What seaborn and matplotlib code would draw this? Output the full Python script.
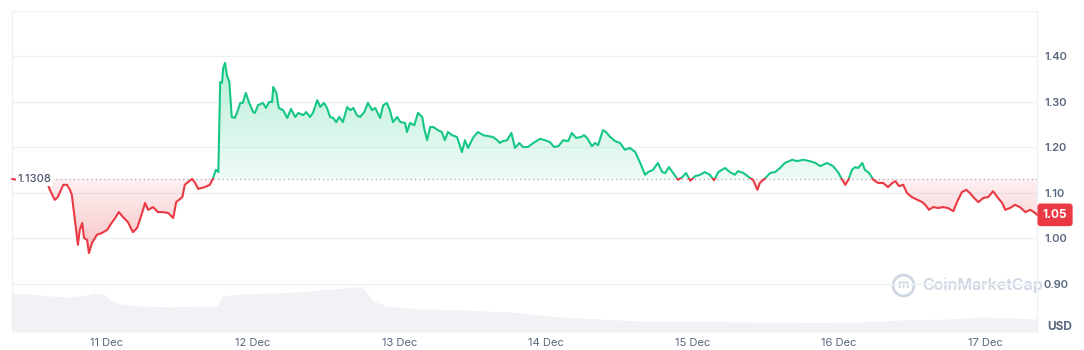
import numpy as np
import pandas as pd
import matplotlib
matplotlib.use("Agg")
import matplotlib.pyplot as plt
import matplotlib.dates as mdates
import seaborn as sns
from matplotlib.path import Path
from matplotlib.patches import Rectangle
from matplotlib.colors import to_rgb

# ---------------- data ----------------
start_time = "2023-12-10 08:35"
price_hours = [
    0.0, 1.3, 3.0, 4.6, 5.9, 6.2, 7.0, 7.5, 8.4, 9.0, 9.5, 9.8, 10.3, 10.8, 11.1, 11.5, 11.8,
    12.3, 12.6, 13.1, 13.9, 14.7, 15.6, 16.1, 16.9, 17.5, 18.2, 19.0, 19.8, 20.5, 21.3, 21.8,
    22.3, 23.1, 23.9, 24.7, 25.6, 26.4, 26.9, 27.9, 28.3, 29.5, 30.0, 30.5, 31.6, 32.4, 32.9,
    33.4, 33.8, 34.1, 34.4, 34.6, 34.9, 35.2, 35.6, 36.0, 36.5, 36.9, 37.4, 37.8, 38.3, 38.8,
    39.5, 39.8, 40.3, 41.1, 41.6, 42.1, 42.6, 42.8, 43.3, 43.7, 44.4, 45.1, 45.7, 46.4, 46.9,
    47.7, 48.2, 48.8, 49.3, 50.0, 50.5, 51.1, 51.6, 52.1, 52.6, 53.1, 53.6, 54.2, 54.9, 55.4,
    55.9, 56.5, 57.0, 57.7, 58.3, 59.0, 59.5, 60.3, 60.8, 61.4, 61.9, 62.4, 63.1, 63.6, 64.4,
    64.7, 65.2, 65.9, 66.5, 67.2, 67.5, 68.0, 68.5, 69.0, 69.8, 70.4, 70.9, 71.4, 72.1, 72.9,
    73.7, 74.2, 74.7, 75.5, 76.3, 77.2, 78.0, 78.8, 79.5, 79.9, 80.4, 81.1, 81.8, 82.4, 83.1,
    83.7, 84.5, 85.4, 86.5, 87.3, 88.1, 88.8, 89.5, 90.3, 91.1, 91.7, 92.4, 93.2, 93.7, 94.2,
    95.0, 95.5, 96.0, 96.8, 97.3, 98.0, 98.8, 99.6, 100.4, 101.2, 102.1, 102.9, 103.7, 104.2,
    105.0, 105.8, 106.5, 107.0, 107.6, 108.3, 109.1, 109.8, 110.4, 111.1, 111.9, 112.7, 113.5,
    114.3, 115.0, 115.7, 116.8, 117.6, 118.4, 118.9, 119.8, 120.9, 121.4, 122.1, 122.5, 123.4,
    124.2, 125.0, 125.8, 126.6, 127.8, 128.6, 129.6, 130.7, 131.6, 132.4, 133.5, 134.5, 135.3,
    136.0, 136.5, 137.0, 137.6, 138.1, 138.6, 139.3, 139.7, 140.4, 141.1, 141.9, 142.7, 143.5,
    144.2, 144.7, 145.3, 146.0, 146.6, 147.4, 148.3, 149.1, 149.6, 150.2, 150.9, 151.7, 152.5,
    153.3, 154.2, 154.8, 155.6, 156.3, 156.9, 157.6, 158.3, 159.1, 159.9, 160.7, 161.4, 162.2,
    162.7, 163.5, 164.3, 165.1, 166.0, 166.8, 167.6, 167.9,
]
price_values = [
    1.1308, 1.128, 1.125, 1.122, 1.118, 1.107, 1.085, 1.091, 1.118, 1.118, 1.107, 1.096, 1.041,
    0.986, 1.019, 1.034, 1.001, 0.997, 0.968, 0.990, 1.008, 1.012, 1.019, 1.030, 1.045, 1.058,
    1.047, 1.036, 1.014, 1.023, 1.056, 1.078, 1.063, 1.069, 1.058, 1.058, 1.056, 1.045, 1.080,
    1.091, 1.118, 1.131, 1.122, 1.109, 1.113, 1.118, 1.131, 1.151, 1.146, 1.344, 1.342, 1.375,
    1.386, 1.359, 1.344, 1.267, 1.265, 1.278, 1.298, 1.298, 1.320, 1.300, 1.278, 1.276, 1.293,
    1.298, 1.287, 1.300, 1.300, 1.333, 1.320, 1.287, 1.282, 1.265, 1.285, 1.267, 1.276, 1.271,
    1.278, 1.267, 1.276, 1.304, 1.289, 1.298, 1.287, 1.267, 1.265, 1.256, 1.267, 1.256, 1.289,
    1.282, 1.287, 1.271, 1.267, 1.278, 1.298, 1.282, 1.287, 1.265, 1.293, 1.298, 1.282, 1.256,
    1.267, 1.256, 1.254, 1.234, 1.254, 1.249, 1.276, 1.267, 1.243, 1.216, 1.245, 1.245, 1.238,
    1.234, 1.216, 1.234, 1.227, 1.223, 1.190, 1.216, 1.199, 1.221, 1.234, 1.227, 1.225, 1.223,
    1.216, 1.210, 1.214, 1.216, 1.232, 1.199, 1.210, 1.201, 1.201, 1.210, 1.219, 1.216, 1.212,
    1.201, 1.203, 1.216, 1.214, 1.232, 1.221, 1.223, 1.227, 1.221, 1.203, 1.210, 1.205, 1.238,
    1.234, 1.223, 1.214, 1.210, 1.195, 1.199, 1.190, 1.166, 1.140, 1.146, 1.151, 1.166, 1.146,
    1.144, 1.157, 1.144, 1.129, 1.135, 1.144, 1.127, 1.137, 1.140, 1.146, 1.140, 1.128, 1.146,
    1.155, 1.146, 1.140, 1.148, 1.144, 1.133, 1.129, 1.107, 1.122, 1.133, 1.144, 1.146, 1.155,
    1.166, 1.173, 1.170, 1.173, 1.170, 1.166, 1.159, 1.166, 1.159, 1.146, 1.129, 1.118, 1.129,
    1.151, 1.157, 1.155, 1.166, 1.151, 1.144, 1.129, 1.122, 1.122, 1.113, 1.122, 1.126, 1.115,
    1.118, 1.100, 1.091, 1.085, 1.080, 1.074, 1.063, 1.069, 1.067, 1.069, 1.067, 1.060, 1.080,
    1.102, 1.107, 1.100, 1.089, 1.080, 1.089, 1.091, 1.104, 1.091, 1.078, 1.063, 1.067, 1.074,
    1.069, 1.058, 1.063, 1.056, 1.052,
]
volume_hours = [
    0.0, 2.9, 6.2, 9.5, 12.0, 13.6, 14.9, 16.1, 17.7, 21.0, 25.9, 30.8, 33.7, 34.4, 37.4, 42.3,
    47.2, 52.1, 57.3, 58.0, 59.1, 61.3, 66.8, 74.2, 81.6, 89.8, 96.3, 102.9, 112.7, 122.5,
    132.4, 138.9, 145.5, 153.7, 159.4, 163.5, 167.9,
]
volume_values = [  # 24h volume, million USD (relative)
    78, 76, 72, 70, 74, 78, 76, 64, 56, 52, 50, 52, 52, 72, 76, 78, 80, 86, 90, 80, 62, 52, 46,
    44, 40, 30, 26, 22, 21, 20, 19, 20, 24, 26, 30, 28, 26,
]
open_price = 1.1308
last_label = "1.05"
y_ticks = [0.90, 1.00, 1.10, 1.20, 1.30, 1.40]
x_tick_dates = pd.date_range("2023-12-11", "2023-12-17", freq="D")

GREEN = "#16c784"
RED = "#ea3943"
GRID = "#eff2f5"
TXT = "#58667e"

# ---------------- figure ----------------
sns.set_theme(style="white")
plt.rcParams["font.family"] = ["Inter", "DejaVu Sans"]

fig = plt.figure(figsize=(10.84, 3.5), dpi=100)
rect = [12 / 1084, 18 / 350, 1025 / 1084, 321 / 350]
ax_vol = fig.add_axes(rect)
ax = fig.add_axes(rect, sharex=ax_vol)
ax.patch.set_visible(False)

t0 = pd.Timestamp(start_time)
ptime = t0 + pd.to_timedelta(price_hours, unit="h")
vtime = t0 + pd.to_timedelta(volume_hours, unit="h")
price = np.array(price_values)
df = pd.DataFrame({"time": ptime, "price": price})

# volume area
ax_vol.fill_between(vtime, volume_values, 0, color="#f0f2f6", lw=0)
ax_vol.set_ylim(0, max(volume_values) * 7.13)
ax_vol.axis("off")

# price lines (green above open, red below)
sns.lineplot(data=df, x="time", y="price", ax=ax, color=GREEN, lw=1.5, zorder=4)
line_g = ax.lines[-1]
sns.lineplot(data=df, x="time", y="price", ax=ax, color=RED, lw=1.5, zorder=4)
line_r = ax.lines[-1]

xnum = mdates.date2num(ptime)
x0, x1 = xnum[0], xnum[-1]
ymin, ymax = 0.7945, 1.4989
clip_g = Rectangle((x0 - 1, open_price + 0.0012), x1 - x0 + 2, 1.0, transform=ax.transData)
clip_r = Rectangle((x0 - 1, open_price + 0.0012 - 1.0), x1 - x0 + 2, 1.0, transform=ax.transData)
line_g.set_clip_path(clip_g)
line_r.set_clip_path(clip_r)

# gradient fills
fg = ax.fill_between(xnum, price, open_price, where=price >= open_price,
                     interpolate=True, facecolor="none", edgecolor="none")
fr = ax.fill_between(xnum, price, open_price, where=price <= open_price,
                     interpolate=True, facecolor="none", edgecolor="none")
g = np.linspace(0, 1, 256)
img_g = np.zeros((256, 1, 4)); img_g[..., :3] = to_rgb(GREEN); img_g[:, 0, 3] = 0.07 + 0.23 * g
img_r = np.zeros((256, 1, 4)); img_r[..., :3] = to_rgb(RED); img_r[:, 0, 3] = 0.30 - 0.23 * g
im_g = ax.imshow(img_g, extent=[x0, x1, open_price, price.max()], origin="lower",
                 aspect="auto", zorder=1, interpolation="bilinear")
im_r = ax.imshow(img_r, extent=[x0, x1, price.min(), open_price], origin="lower",
                 aspect="auto", zorder=1, interpolation="bilinear")
im_g.set_clip_path(Path.make_compound_path(*fg.get_paths()), ax.transData)
im_r.set_clip_path(Path.make_compound_path(*fr.get_paths()), ax.transData)

# open price dotted line
ax.axhline(open_price, color="#a1a7bb", lw=0.9, ls=(0, (1, 2.5)), zorder=2)

# axes cosmetics
ax.set_xlim(x0, x1)
ax.set_ylim(ymin, ymax)
ax.set_xlabel("")
ax.set_ylabel("")
ax.yaxis.tick_right()
ax.set_yticks(y_ticks + [1.50])
ax.set_yticklabels([f"{v:.2f}" for v in y_ticks] + [""])
ax.grid(axis="y", color=GRID, lw=1)
ax.grid(axis="x", visible=False)
ax.set_xticks(x_tick_dates)
ax.xaxis.set_major_formatter(mdates.DateFormatter("%d %b"))
ax.tick_params(axis="y", length=0, pad=5, labelsize=8, labelcolor=TXT)
ax.tick_params(axis="x", length=0, pad=4, labelsize=8, labelcolor=TXT)
for lbl in ax.get_yticklabels():
    lbl.set_fontweight("semibold")
for side in ["top", "bottom"]:
    ax.spines[side].set_visible(False)
for side in ["left", "right"]:
    ax.spines[side].set_color(GRID)
    ax.spines[side].set_linewidth(1)

# labels
ax.annotate(f"{open_price:.4f}", xy=(0, open_price), xycoords=("axes fraction", "data"),
            xytext=(4, 0), textcoords="offset points", ha="left", va="center",
            fontsize=8, fontweight="medium", color="#4a556b", zorder=6,
            bbox=dict(boxstyle="square,pad=0.15", fc="white", ec="none"))
ax.annotate(last_label, xy=(1, price[-1]), xycoords=("axes fraction", "data"),
            xytext=(13, 0), textcoords="offset points", ha="center", va="center",
            fontsize=8.5, fontweight="bold", color="white", annotation_clip=False, zorder=6,
            bbox=dict(boxstyle="round,pad=0.45,rounding_size=0.25", fc=RED, ec="none"))
fig.text(1060 / 1084, 1 - 327 / 350, "USD", ha="center", va="center",
         fontsize=8.5, fontweight="bold", color=TXT)

# watermark
WM = "#cfd6e4"
ax.plot([0.869], [0.146], transform=ax.transAxes, marker="o", ms=15, mfc="none",
        mec=WM, mew=2, zorder=0)
ax.text(0.869, 0.146, "m", transform=ax.transAxes, ha="center", va="center",
        fontsize=9, fontweight="bold", color=WM, zorder=0)
ax.text(0.888, 0.146, "CoinMarketCap", transform=ax.transAxes, ha="left", va="center",
        fontsize=11.5, fontweight="semibold", color=WM, zorder=0)

fig.savefig("out.png", dpi=100)
